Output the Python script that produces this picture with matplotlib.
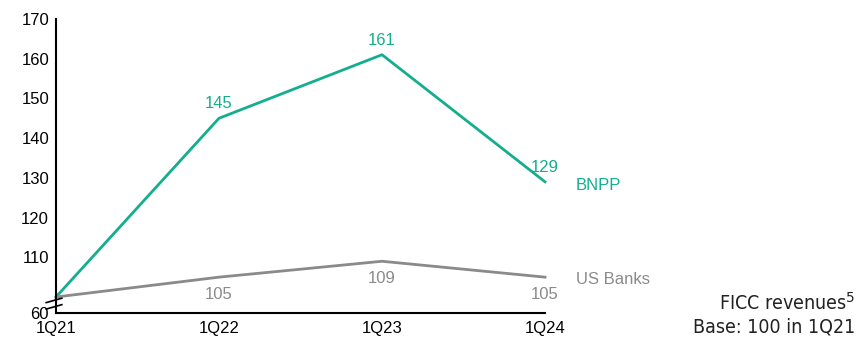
import matplotlib
matplotlib.use('Agg')
from matplotlib import pyplot as plt
from matplotlib import font_manager

quarters = ['1Q21', '1Q22', '1Q23', '1Q24']
bnpp = [100, 145, 161, 129]
us_banks = [100, 105, 109, 105]
y_ticks = [96, 110, 120, 130, 140, 150, 160, 170]
y_labels = ['60', '110', '120', '130', '140', '150', '160', '170']

green = '#14AE8E'
grey = '#8A8A8A'

plt.rcParams['font.family'] = ['Liberation Sans', 'DejaVu Sans']

names = {f.name for f in font_manager.fontManager.ttflist}
narrow = [n for n in ['Liberation Sans Narrow', 'DejaVu Sans Condensed'] if n in names]

fig = plt.figure(figsize=(8.61, 3.39), dpi=100)
ax = fig.add_axes([0.065, 0.077, 0.568, 0.867])
x = list(range(len(quarters)))

ax.plot(x, bnpp, color=green, lw=2, clip_on=False)
ax.plot(x, us_banks, color=grey, lw=2, clip_on=False)

# value labels
for i in x[1:]:
    ax.annotate(str(bnpp[i]), (i, bnpp[i]), xytext=(0, 5), textcoords='offset points',
                ha='center', va='bottom', color=green, fontsize=12)
    ax.annotate(str(us_banks[i]), (i, us_banks[i]), xytext=(0, -7), textcoords='offset points',
                ha='center', va='top', color=grey, fontsize=12)

ax.annotate('BNPP', (3, bnpp[3]), xytext=(22, -3), textcoords='offset points',
            ha='left', va='center', color=green, fontsize=12)
ax.annotate('US Banks', (3, us_banks[3]), xytext=(22, -2), textcoords='offset points',
            ha='left', va='center', color=grey, fontsize=12)

ax.set_xlim(0, 3)
ax.set_ylim(96, 170)
ax.set_xticks(x)
ax.set_xticklabels(quarters, fontsize=12)
ax.set_yticks(y_ticks)
ax.set_yticklabels(y_labels, fontsize=12)
ax.tick_params(axis='y', length=0, pad=5)
ax.tick_params(axis='x', length=0, pad=6)
ax.spines['top'].set_visible(False)
ax.spines['right'].set_visible(False)
ax.spines['left'].set_linewidth(1.5)
ax.spines['bottom'].set_linewidth(1.5)

# axis break marks
tr = ax.transAxes
ax.plot([-0.02, 0.012], [0.035, 0.05], color='black', lw=1.2, transform=tr, clip_on=False)
ax.plot([-0.02, 0.012], [0.013, 0.028], color='black', lw=1.2, transform=tr, clip_on=False)

fig.text(0.993, 0.008, 'FICC revenues$^5$\nBase: 100 in 1Q21', ha='right', va='bottom',
         fontsize=14, family=narrow + ['DejaVu Sans'], fontstretch='condensed',
         color='#222222', linespacing=1.2)

fig.savefig('out.png', dpi=100)
